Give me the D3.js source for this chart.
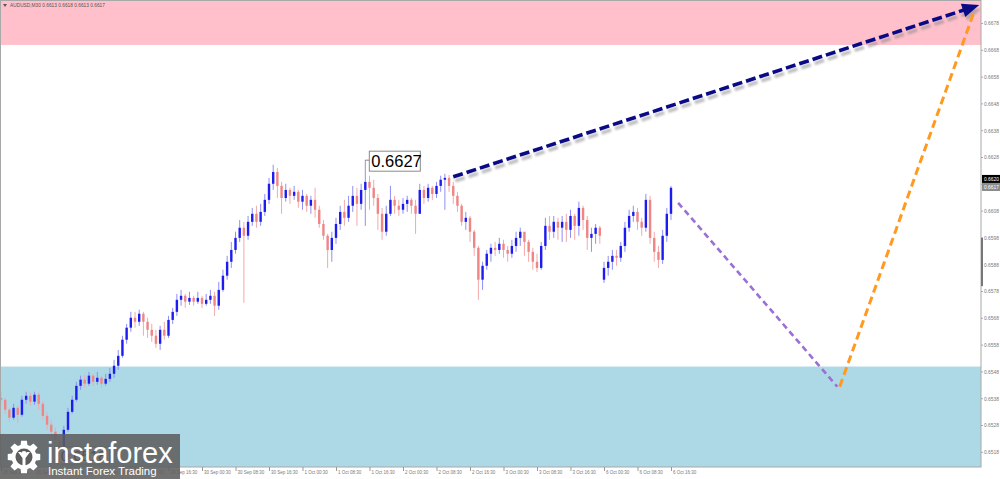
<!DOCTYPE html>
<html><head><meta charset="utf-8">
<script src="https://cdn.jsdelivr.net/npm/d3@7"></script>
<style>html,body{margin:0;padding:0;background:#fff;overflow:hidden}</style>
</head><body><svg id="c" width="1000" height="479"></svg>
<script>
// ---------------- DATA ----------------
const header = "AUDUSD,M30  0.6613 0.6618 0.6613 0.6617";
const opens = [0.65383,0.65376,0.65339,0.65309,0.65346,0.65320,0.65376,0.65391,0.65369,0.65395,
0.65361,0.65316,0.65283,0.65257,0.65227,0.65197,0.65264,0.65331,0.65376,0.65428,
0.65451,0.65436,0.65466,0.65443,0.65458,0.65436,0.65454,0.65473,0.65503,0.65540,
0.65600,0.65645,0.65682,0.65667,0.65697,0.65667,0.65637,0.65615,0.65585,0.65637,
0.65615,0.65674,0.65704,0.65749,0.65764,0.65742,0.65756,0.65742,0.65756,0.65734,
0.65749,0.65764,0.65727,0.65786,0.65839,0.65891,0.65935,0.65980,0.66018,0.65988,
0.66040,0.66070,0.66040,0.66077,0.66122,0.66182,0.66226,0.66174,0.66129,0.66159,
0.66137,0.66152,0.66115,0.66137,0.66100,0.66122,0.66085,0.66032,0.65988,0.65935,
0.65980,0.66032,0.66077,0.66055,0.66100,0.66137,0.66107,0.66159,0.66189,0.66167,
0.66129,0.66070,0.66003,0.66070,0.66122,0.66100,0.66085,0.66107,0.66122,0.66100,
0.66070,0.66159,0.66129,0.66167,0.66144,0.66174,0.66197,0.66204,0.66174,0.66137,
0.66100,0.66040,0.66055,0.66003,0.65943,0.65824,0.65876,0.65921,0.65943,0.65935,
0.65958,0.65935,0.65921,0.65950,0.65980,0.66003,0.65965,0.65928,0.65891,0.65868,
0.65950,0.66025,0.66003,0.66040,0.66018,0.66040,0.66010,0.66062,0.66025,0.66092,
0.66047,0.65980,0.65995,0.66018,0.65824,0.65868,0.65891,0.65913,0.65906,0.65950,
0.66018,0.66062,0.66077,0.66040,0.66018,0.66122,0.65980,0.65928,0.65898,0.65988,
0.66070];
const highs = [0.65406,0.65383,0.65346,0.65361,0.65354,0.65391,0.65406,0.65402,0.65406,0.65402,
0.65369,0.65331,0.65301,0.65272,0.65242,0.65279,0.65346,0.65391,0.65443,0.65466,
0.65469,0.65480,0.65473,0.65480,0.65466,0.65473,0.65495,0.65525,0.65562,0.65615,
0.65659,0.65704,0.65704,0.65712,0.65704,0.65682,0.65659,0.65637,0.65652,0.65667,
0.65689,0.65719,0.65771,0.65786,0.65771,0.65779,0.65764,0.65779,0.65764,0.65771,
0.65786,0.65779,0.65816,0.65861,0.65913,0.65965,0.66003,0.66047,0.66040,0.66062,
0.66092,0.66100,0.66107,0.66144,0.66204,0.66253,0.66241,0.66189,0.66182,0.66167,
0.66174,0.66159,0.66159,0.66144,0.66137,0.66167,0.66100,0.66047,0.65995,0.66003,
0.66055,0.66100,0.66122,0.66137,0.66174,0.66167,0.66182,0.66271,0.66212,0.66197,
0.66144,0.66092,0.66100,0.66174,0.66137,0.66122,0.66129,0.66137,0.66129,0.66122,
0.66182,0.66174,0.66182,0.66174,0.66189,0.66212,0.66219,0.66215,0.66189,0.66152,
0.66107,0.66077,0.66062,0.66010,0.65950,0.65891,0.65935,0.65958,0.65965,0.65980,
0.65973,0.65950,0.65973,0.66003,0.66018,0.65995,0.65973,0.65943,0.65921,0.65965,
0.66055,0.66062,0.66062,0.66055,0.66062,0.66070,0.66085,0.66070,0.66115,0.66100,
0.66062,0.66018,0.66032,0.66025,0.65891,0.65913,0.65935,0.65935,0.65965,0.66040,
0.66085,0.66100,0.66092,0.66055,0.66144,0.66137,0.66003,0.65950,0.66010,0.66092,
0.66174];
const lows = [0.65357,0.65324,0.65294,0.65301,0.65290,0.65313,0.65361,0.65354,0.65357,0.65339,
0.65301,0.65264,0.65234,0.65204,0.65171,0.65189,0.65257,0.65324,0.65369,0.65413,
0.65421,0.65428,0.65428,0.65432,0.65421,0.65428,0.65443,0.65458,0.65488,0.65533,
0.65585,0.65630,0.65645,0.65652,0.65615,0.65607,0.65592,0.65570,0.65562,0.65600,
0.65607,0.65659,0.65689,0.65727,0.65719,0.65730,0.65727,0.65734,0.65719,0.65727,
0.65734,0.65689,0.65712,0.65779,0.65824,0.65868,0.65921,0.65965,0.65738,0.65973,
0.66025,0.66018,0.66025,0.66062,0.66107,0.66159,0.66129,0.66070,0.66115,0.66107,
0.66122,0.66092,0.66085,0.66077,0.66070,0.66055,0.66018,0.65973,0.65868,0.65891,
0.65958,0.66010,0.66025,0.66040,0.66077,0.66025,0.66085,0.66025,0.66085,0.66100,
0.66010,0.65973,0.65988,0.66062,0.66070,0.66062,0.66070,0.66077,0.66070,0.65995,
0.66070,0.66107,0.66115,0.66122,0.66129,0.66152,0.66085,0.66152,0.66107,0.66077,
0.66025,0.66010,0.65965,0.65913,0.65749,0.65786,0.65861,0.65891,0.65913,0.65921,
0.65906,0.65891,0.65906,0.65928,0.65950,0.65913,0.65891,0.65861,0.65853,0.65861,
0.65935,0.65973,0.65980,0.65973,0.65965,0.65965,0.65980,0.65973,0.65988,0.66010,
0.65935,0.65928,0.65958,0.65958,0.65812,0.65839,0.65861,0.65876,0.65891,0.65928,
0.66003,0.66040,0.66010,0.65988,0.66003,0.65958,0.65891,0.65868,0.65883,0.65965,
0.66047];
const closes = [0.65376,0.65339,0.65309,0.65346,0.65320,0.65376,0.65391,0.65369,0.65395,0.65361,
0.65316,0.65283,0.65257,0.65227,0.65197,0.65264,0.65331,0.65376,0.65428,0.65451,
0.65436,0.65466,0.65443,0.65458,0.65436,0.65454,0.65473,0.65503,0.65540,0.65600,
0.65645,0.65682,0.65667,0.65697,0.65667,0.65637,0.65615,0.65585,0.65637,0.65615,
0.65674,0.65704,0.65749,0.65764,0.65742,0.65756,0.65742,0.65756,0.65734,0.65749,
0.65764,0.65727,0.65786,0.65839,0.65891,0.65935,0.65980,0.66018,0.65988,0.66040,
0.66070,0.66040,0.66077,0.66122,0.66182,0.66226,0.66174,0.66129,0.66159,0.66137,
0.66152,0.66115,0.66137,0.66100,0.66122,0.66085,0.66032,0.65988,0.65935,0.65980,
0.66032,0.66077,0.66055,0.66100,0.66137,0.66107,0.66159,0.66189,0.66167,0.66129,
0.66070,0.66003,0.66070,0.66122,0.66100,0.66085,0.66107,0.66122,0.66100,0.66070,
0.66159,0.66129,0.66167,0.66144,0.66174,0.66197,0.66204,0.66174,0.66137,0.66100,
0.66040,0.66055,0.66003,0.65943,0.65824,0.65876,0.65921,0.65943,0.65935,0.65958,
0.65935,0.65921,0.65950,0.65980,0.66003,0.65965,0.65928,0.65891,0.65868,0.65950,
0.66025,0.66003,0.66040,0.66018,0.66040,0.66010,0.66062,0.66025,0.66092,0.66047,
0.65980,0.65995,0.66018,0.65988,0.65868,0.65891,0.65913,0.65906,0.65950,0.66018,
0.66062,0.66077,0.66040,0.66018,0.66122,0.65980,0.65928,0.65898,0.65988,0.66070,
0.66167];
const timeLabels = ["26 Sep 2025","26 Sep 08:30","26 Sep 16:30","29 Sep 00:30","29 Sep 08:30","29 Sep 16:30",
"30 Sep 00:30","30 Sep 08:30","30 Sep 16:30","1 Oct 00:30","1 Oct 08:30","1 Oct 16:30",
"2 Oct 00:30","2 Oct 08:30","2 Oct 16:30","3 Oct 00:30","3 Oct 08:30","3 Oct 16:30",
"6 Oct 00:30","6 Oct 08:30","6 Oct 16:30"];
const timeLabelBars = [0,8,16,24,32,40,48,56,64,72,80,88,96,104,112,120,128,136,144,152,160];
const priceTicks = [0.6518,0.6528,0.6538,0.6548,0.6558,0.6568,0.6578,0.6588,0.6598,0.6608,0.6618,0.6628,0.6638,0.6648,0.6658,0.6668,0.6678];
const sellZone = [0.6670, 0.6700];
const buyZone = [0.6480, 0.6550];
const highMark = {bar: 87, price: 0.6627, text: "0.6627"};
const lowMark = {bar: 14, price: 0.6517, text: "0.6518"};
const bidAsk = [{price: 0.6620, text: "0.6620", fill: "#000"}, {price: 0.6617, text: "0.6617", fill: "#8c8c8c"}];
const scaleMarker = [0.6598, 0.6580];
const navyBars = [108, 233.6], navyPrices = [0.66208, 0.66849];
const purpleBars = [161.7, 199.7], purplePrices = [0.66111, 0.65425];
const orangeBars = [200.3, 232.3], orangePrices = [0.65425, 0.66820];

// ---------------- LAYOUT ----------------
const W = 1000, H = 479, plotR = 981, plotB = 467;
const svg = d3.select("#c");
const x = d3.scaleLinear().domain([0, 160]).range([1, 671]);
const y = d3.scaleLinear().domain([0.6518, 0.6678]).range([452.3, 23.5]);
const FONT = "Liberation Sans, Arial";

const defs = svg.append("defs");
defs.append("clipPath").attr("id","plot").append("rect").attr("x",0).attr("y",0).attr("width",plotR).attr("height",plotB);
defs.append("filter").attr("id","blur").append("feGaussianBlur").attr("stdDeviation",1.2);

svg.append("rect").attr("width",W).attr("height",H).attr("fill","#fff");
const g = svg.append("g").attr("clip-path","url(#plot)");
g.append("rect").attr("x",0).attr("width",plotR).attr("y",y(sellZone[1])).attr("height",y(sellZone[0])-y(sellZone[1])).attr("fill","#ffc0cb");
g.append("rect").attr("x",0).attr("width",plotR).attr("y",y(buyZone[1])).attr("height",y(buyZone[0])-y(buyZone[1])).attr("fill","#add8e6");

// candles
const bars = d3.range(closes.length).map(i => ({i, o: opens[i], h: highs[i], l: lows[i], c: closes[i]}));
const bw = 2.4;
g.append("g").selectAll("line").data(bars).join("line")
  .attr("x1", d => x(d.i)).attr("x2", d => x(d.i))
  .attr("y1", d => y(d.h)).attr("y2", d => y(d.l))
  .attr("stroke", d => d.c >= d.o ? "#8f8ff5" : "#f3a9a9").attr("stroke-width", 1);
g.append("g").selectAll("rect").data(bars).join("rect")
  .attr("x", d => x(d.i) - bw/2).attr("width", bw)
  .attr("y", d => y(Math.max(d.o, d.c)))
  .attr("height", d => Math.max(1, Math.abs(y(d.o) - y(d.c))))
  .attr("fill", d => d.c >= d.o ? "#1c1cf0" : "#ef8585");

// high label
const hx = x(highMark.bar), hy = y(highMark.price);
g.append("line").attr("x1",hx).attr("x2",hx+4).attr("y1",hy).attr("y2",hy).attr("stroke","#888");
g.append("rect").attr("x",hx+4).attr("y",hy-9).attr("width",51).attr("height",20).attr("fill","#fff").attr("stroke","#8a8a8a");
g.append("text").attr("x",hx+6).attr("y",hy+7).attr("font-family",FONT).attr("font-size",16.5).attr("fill","#000").text(highMark.text);
// low label
const lx = x(lowMark.bar), ly = y(lowMark.price);
g.append("rect").attr("x",lx-2).attr("y",ly-8).attr("width",52).attr("height",17).attr("fill","#fff").attr("stroke","#8a8a8a");
g.append("text").attr("x",lx+1).attr("y",ly+6).attr("font-family",FONT).attr("font-size",15).attr("fill","#000").text(lowMark.text);

// forecast lines
function pts(bs, ps){ return bs.map((b,k)=>[x(b), y(ps[k])]); }
const nv = pts(navyBars, navyPrices);
const ang = Math.atan2(nv[1][1]-nv[0][1], nv[1][0]-nv[0][0]);
const headL = 17, headW = 7;
const lineEnd = [nv[1][0]-Math.cos(ang)*headL*0.8, nv[1][1]-Math.sin(ang)*headL*0.8];
const head = [nv[1],
  [nv[1][0]-Math.cos(ang)*headL - Math.sin(ang)*headW, nv[1][1]-Math.sin(ang)*headL + Math.cos(ang)*headW],
  [nv[1][0]-Math.cos(ang)*headL + Math.sin(ang)*headW, nv[1][1]-Math.sin(ang)*headL - Math.cos(ang)*headW]];
const sh = g.append("g").attr("transform","translate(2,4)").attr("filter","url(#blur)").attr("opacity",0.55);
sh.append("line").attr("x1",nv[0][0]).attr("y1",nv[0][1]).attr("x2",lineEnd[0]).attr("y2",lineEnd[1])
  .attr("stroke","#888").attr("stroke-width",3.6).attr("stroke-dasharray","10,4");
sh.append("path").attr("d", d3.line()(head)+"Z").attr("fill","#888");

const op = pts(orangeBars, orangePrices);
g.append("line").attr("x1",op[0][0]).attr("y1",op[0][1]).attr("x2",op[1][0]).attr("y2",op[1][1])
  .attr("stroke","#ff9a1f").attr("stroke-width",3).attr("stroke-dasharray","8,4.5");
const pp = pts(purpleBars, purplePrices);
g.append("line").attr("x1",pp[0][0]).attr("y1",pp[0][1]).attr("x2",pp[1][0]).attr("y2",pp[1][1])
  .attr("stroke","#9b6fd6").attr("stroke-width",2.6).attr("stroke-dasharray","6,4");
g.append("line").attr("x1",nv[0][0]).attr("y1",nv[0][1]).attr("x2",lineEnd[0]).attr("y2",lineEnd[1])
  .attr("stroke","#0a0a86").attr("stroke-width",3.6).attr("stroke-dasharray","10,4");
g.append("path").attr("d", d3.line()(head)+"Z").attr("fill","#0a0a86");

// frame
svg.append("rect").attr("x",0.5).attr("y",0.5).attr("width",plotR-0.5).attr("height",plotB-0.5).attr("fill","none").attr("stroke","#a8a8a8").attr("stroke-width",1);

// right axis
const ya = svg.append("g");
ya.selectAll("text").data(priceTicks).join("text")
  .attr("x", 984).attr("y", d => y(d)+1.8)
  .attr("font-family",FONT).attr("font-size",4.9).attr("fill","#7a7a7a")
  .text(d => d.toFixed(4));
ya.selectAll("line").data(priceTicks).join("line")
  .attr("x1",plotR).attr("x2",plotR+2).attr("y1",d=>y(d)).attr("y2",d=>y(d)).attr("stroke","#aaa");
ya.append("rect").attr("x",plotR).attr("width",2).attr("y",y(scaleMarker[0])).attr("height",y(scaleMarker[1])-y(scaleMarker[0])).attr("fill","#777");
bidAsk.forEach(b => {
  ya.append("rect").attr("x",982).attr("y",y(b.price)-4).attr("width",18).attr("height",8).attr("fill",b.fill);
  ya.append("text").attr("x",984).attr("y",y(b.price)+1.8).attr("font-family",FONT).attr("font-size",4.9).attr("fill","#fff").text(b.text);
});

// bottom axis
const xa = svg.append("g");
xa.selectAll("line").data(timeLabelBars).join("line")
  .attr("x1", d => x(d)+0.5).attr("x2", d => x(d)+0.5).attr("y1", plotB).attr("y2", plotB+4).attr("stroke","#999");
xa.selectAll("text").data(timeLabelBars).join("text")
  .attr("x", d => x(d)+2).attr("y", 473.8)
  .attr("font-family",FONT).attr("font-size",4.5).attr("fill","#7a7a7a")
  .text((d,k) => timeLabels[k]);

// header
svg.append("path").attr("d","M3,4 L7,4 L5,7 Z").attr("fill","#555");
svg.append("text").attr("x",10).attr("y",7.3).attr("font-family",FONT).attr("font-size",4.8).attr("fill","#555").text(header);

// logo
const logo = svg.append("g");
logo.append("rect").attr("x",0).attr("y",434).attr("width",180).attr("height",45).attr("fill","#5e5e5e").attr("opacity",0.88);
const gc = [24, 457];
const gearPts = [];
const nT = 8;
for (let k = 0; k < nT; k++) {
  const a0 = k * 2*Math.PI/nT;
  const s = 2*Math.PI/nT;
  [[ -0.22, 12.5],[ -0.14, 16.5],[0.14,16.5],[0.22,12.5]].forEach(([f,r]) => {
    gearPts.push([gc[0]+r*Math.cos(a0+f*s*1.6), gc[1]+r*Math.sin(a0+f*s*1.6)]);
  });
}
logo.append("path").attr("d", d3.line().curve(d3.curveLinearClosed)(gearPts)).attr("fill","#fff");
logo.append("circle").attr("cx",gc[0]).attr("cy",gc[1]).attr("r",8.5).attr("fill","#5e5e5e");
logo.append("circle").attr("cx",gc[0]).attr("cy",gc[1]-3.5).attr("r",2.6).attr("fill","#fff");
logo.append("path").attr("d",`M${gc[0]-6},${gc[1]-5} L${gc[0]-1.5},${gc[1]+1} L${gc[0]-1.5},${gc[1]+9} L${gc[0]+1.5},${gc[1]+9} L${gc[0]+1.5},${gc[1]+1} L${gc[0]+6},${gc[1]-5} L${gc[0]+3},${gc[1]-5} L${gc[0]},${gc[1]-1} L${gc[0]-3},${gc[1]-5} Z`).attr("fill","#fff");
logo.append("text").attr("x",47).attr("y",463).attr("font-family",FONT).attr("font-size",29).attr("fill","#fff").text("instaforex");
logo.append("text").attr("x",48).attr("y",474.5).attr("font-family",FONT).attr("font-size",11.5).attr("fill","#fff").text("Instant Forex Trading");
</script></body></html>
